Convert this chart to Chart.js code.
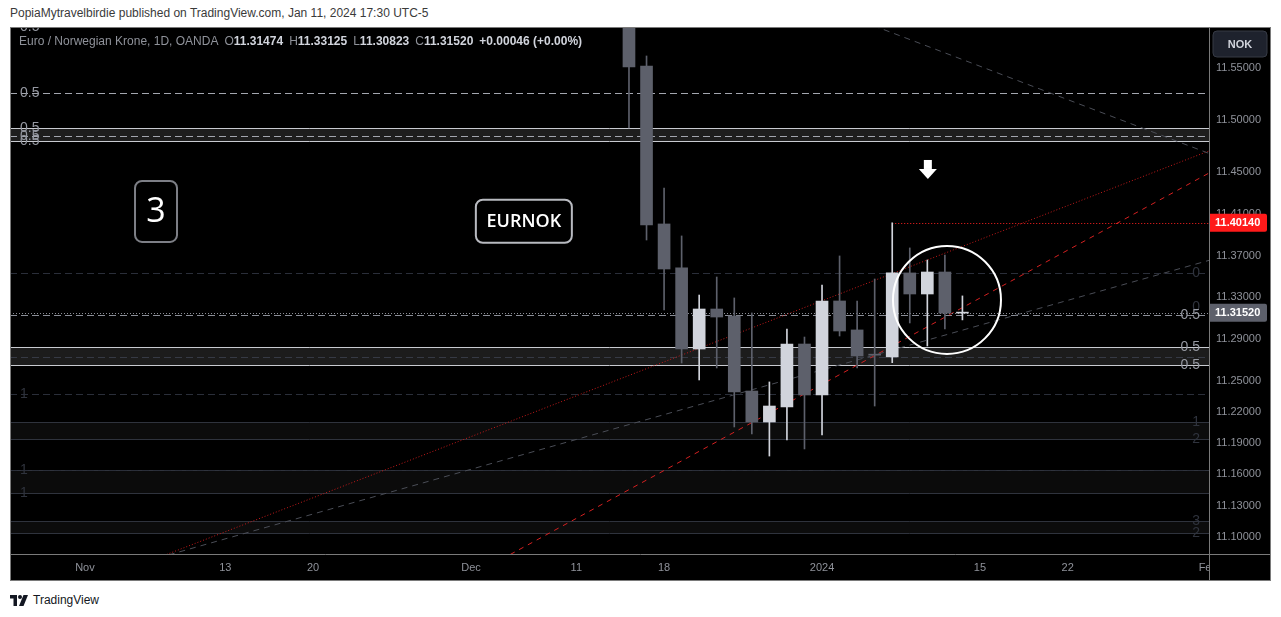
<!DOCTYPE html>
<html>
<head>
<meta charset="utf-8">
<title>EURNOK 1D</title>
<script src="https://cdn.jsdelivr.net/npm/chart.js@4.4.1/dist/chart.umd.min.js"></script>
<style>
  html, body { margin: 0; padding: 0; background: #fff; width: 1281px; height: 617px; overflow: hidden; }
  body { font-family: "Liberation Sans", Arial, sans-serif; position: relative; }
  #hdr { position: absolute; left: 10px; top: 6px; font-size: 12px; color: #3a3a3a; white-space: nowrap; }
  #wrap { position: absolute; left: 10px; top: 27px; width: 1261px; height: 554px; }
  #ftr { position: absolute; left: 10px; top: 592px; height: 16px; display: flex; align-items: center; font-size: 12px; color: #131722; }
  #ftr svg { margin-right: 5px; }
</style>
</head>
<body>
<div id="hdr">PopiaMytravelbirdie published on TradingView.com, Jan 11, 2024 17:30 UTC-5</div>
<div id="wrap"><canvas id="chart" width="1261" height="554"></canvas></div>
<div id="ftr">
  <svg width="18" height="11" viewBox="0 0 36 22"><path d="M0 0h14v22H7V7H0z" fill="#131722"/><circle cx="20" cy="4" r="4" fill="#131722"/><path d="M27 0h9l-9 22h-9z" fill="#131722"/></svg>
  <span>TradingView</span>
</div>
<script>
// --- calendar (forex trading days, weekends + closed days skipped) ---
const firstDay = '2023-10-26';
const lastDay = '2024-02-02';
const closedDays = ['2023-12-25', '2024-01-01'];

// --- candles ---
const candleDates = ['2023-12-14', '2023-12-15', '2023-12-18', '2023-12-19', '2023-12-20', '2023-12-21', '2023-12-22',
  '2023-12-26', '2023-12-27', '2023-12-28', '2023-12-29', '2024-01-02', '2024-01-03', '2024-01-04', '2024-01-05',
  '2024-01-08', '2024-01-09', '2024-01-10', '2024-01-11', '2024-01-12'];
const opens  = [11.6500, 11.5519, 11.4003, 11.3581, 11.2803, 11.3187, 11.3120, 11.2400, 11.2103, 11.2247,
  11.2851, 11.2362, 11.3264, 11.2986, 11.2747, 11.2727, 11.3533, 11.3331, 11.3542, 11.31474];
const highs  = [11.6600, 11.5615, 11.4348, 11.3888, 11.3321, 11.3494, 11.3293, 11.3149, 11.2487, 11.2995,
  11.2918, 11.3417, 11.3696, 11.3264, 11.3475, 11.4014, 11.3773, 11.3657, 11.3705, 11.33125];
const lows   = [11.4924, 11.3849, 11.3178, 11.2669, 11.2506, 11.2621, 11.2055, 11.1988, 11.1776, 11.1930,
  11.1844, 11.1978, 11.2928, 11.2621, 11.2256, 11.2672, 11.3053, 11.2832, 11.2995, 11.30823];
const closes = [11.5510, 11.3993, 11.3571, 11.2803, 11.3187, 11.3110, 11.2391, 11.2103, 11.2256, 11.2851,
  11.2362, 11.3264, 11.2976, 11.2736, 11.2744, 11.3533, 11.3331, 11.3542, 11.3147, 11.31520];

// --- axes ---
const tickDates  = ['2023-11-01', '2023-11-13', '2023-11-20', '2023-12-01', '2023-12-11', '2023-12-18', '2024-01-02', '2024-01-15', '2024-01-22', '2024-02-01'];
const tickLabels = ['Nov', '13', '20', 'Dec', '11', '18', '2024', '15', '22', 'Feb'];
const priceTicks = [11.55, 11.50, 11.45, 11.41, 11.37, 11.33, 11.29, 11.25, 11.22, 11.19, 11.16, 11.13, 11.10];
const viewFrom = -0.27, viewTo = 68.05;
const priceMin = 11.0836, priceMax = 11.5893;

// --- drawings on the chart (prices) ---
const dashLevels = [
  { p: 11.5891, color: '#9598a1', label: '0.5', side: 'left' },
  { p: 11.5260, color: '#a3a6af', label: '0.5', side: 'left' },
  { p: 11.4845, color: '#a3a6af', label: '0.5', side: 'left' },
  { p: 11.3530, color: '#2a2e39', label: '0', side: 'right' },
  { p: 11.3206, color: null, label: '0', side: 'right' },
  { p: 11.3127, color: '#8a8d96', label: '0.5', side: 'right' },
  { p: 11.2729, color: '#363a45', label: null, side: 'right' },
  { p: 11.2371, color: '#2a2e39', label: '1', side: 'left' },
  { p: 11.1642, color: '#2a2e39', label: '1', side: 'left' }
];
const bands = [
  { top: 11.4921, bottom: 11.4799, fill: '#1e1e1e', edge: '#c8cad0', labels: ['0.5', '0.5'], side: 'left', light: true },
  { top: 11.2820, bottom: 11.2647, fill: '#1c1c1c', edge: '#c8cad0', labels: ['0.5', '0.5'], side: 'right', light: true },
  { top: 11.2103, bottom: 11.1937, fill: '#0c0c0c', edge: '#2f333d', labels: ['1', '2'], side: 'right', light: false },
  { top: 11.1642, bottom: 11.1424, fill: '#0b0b0b', edge: '#2f333d', labels: [null, '1'], side: 'left', light: false },
  { top: 11.1153, bottom: 11.1035, fill: '#0c0c0c', edge: '#2f333d', labels: ['3', '2'], side: 'right', light: false }
];
const trendLines = [
  { a: [33.34, 11.2441], b: [51.01, 11.3593], color: '#c41a1a', dash: [1, 2], width: 1 },
  { a: [37.16, 11.1652], b: [49.30, 11.2768], color: '#d42020', dash: [5, 5], width: 1 },
  { a: [33.91, 11.2026], b: [67.53, 11.3629], color: '#4a4d56', dash: [6, 5], width: 1 },
  { a: [49.13, 11.5893], b: [68.05, 11.4680], color: '#4a4d56', dash: [6, 5], width: 1 }
];
const resistanceFrom = 50, resistancePrice = 11.4014;
const lastPrice = 11.31520;
const circleAt = [53.12, 11.3274];
const arrowAt = [52.03, 11.4521];
const noteBoxes = [
  { text: '3', at: [8.05, 11.4123], w: 42, h: 61, font: '34px "Open Sans", sans-serif', border: '#7d7f86' },
  { text: 'EURNOK', at: [29.01, 11.4029], w: 96, h: 43, font: '600 18px "Open Sans", sans-serif', border: '#b8bac0' }
];

function tradingDays() {
  const out = [];
  const d = new Date(firstDay + 'T00:00:00Z');
  const end = new Date(lastDay + 'T00:00:00Z');
  while (d <= end) {
    const s = d.toISOString().slice(0, 10);
    const wd = d.getUTCDay();
    if (wd !== 0 && wd !== 6 && !closedDays.includes(s)) out.push(s);
    d.setUTCDate(d.getUTCDate() + 1);
  }
  return out;
}
const days = tradingDays();
const dayIdx = (s) => days.indexOf(s);
const tickIdx = tickDates.map(dayIdx);

const BULL = '#d1d4dc', BEAR = '#5d606b';
const isBull = candleDates.map((d, k) => closes[k] >= opens[k]);

const wickData = candleDates.map((d, k) => ({ x: dayIdx(d), y: [lows[k], highs[k]] }));
const bodyData = candleDates.map((d, k) => ({ x: dayIdx(d), y: [Math.min(opens[k], closes[k]), Math.max(opens[k], closes[k])] }));

const FONT = '"Liberation Sans", Arial, sans-serif';

// --- drawing plugin ---
const tvPlugin = {
  id: 'tv',
  beforeDraw(chart) {
    const c = chart.ctx;
    c.save();
    c.fillStyle = '#000';
    c.fillRect(0, 0, chart.width, chart.height);
    c.restore();
  },
  beforeDatasetsDraw(chart) {
    const c = chart.ctx, a = chart.chartArea;
    const xs = chart.scales.x, ys = chart.scales.y;
    c.save();
    c.beginPath();
    c.rect(a.left, a.top, a.right - a.left, a.bottom - a.top);
    c.clip();

    bands.forEach(b => {
      const y1 = Math.round(ys.getPixelForValue(b.top)), y2 = Math.round(ys.getPixelForValue(b.bottom));
      c.fillStyle = b.fill;
      c.fillRect(a.left, y1, a.right - a.left, y2 - y1);
      c.strokeStyle = b.edge;
      c.lineWidth = 1;
      c.setLineDash([]);
      [y1, y2].forEach(y => { c.beginPath(); c.moveTo(a.left, y + 0.5); c.lineTo(a.right, y + 0.5); c.stroke(); });
    });

    dashLevels.forEach(l => {
      if (!l.color) return;
      const y = Math.round(ys.getPixelForValue(l.p)) + 0.5;
      c.strokeStyle = l.color;
      c.lineWidth = 1;
      c.setLineDash([7, 4]);
      c.beginPath(); c.moveTo(a.left, y); c.lineTo(a.right, y); c.stroke();
    });

    trendLines.forEach(t => {
      const x1 = xs.getPixelForValue(t.a[0]), y1 = ys.getPixelForValue(t.a[1]);
      const x2 = xs.getPixelForValue(t.b[0]), y2 = ys.getPixelForValue(t.b[1]);
      const k = (y2 - y1) / (x2 - x1);
      c.strokeStyle = t.color;
      c.lineWidth = t.width;
      c.setLineDash(t.dash);
      c.beginPath();
      c.moveTo(a.left, y1 + (a.left - x1) * k);
      c.lineTo(a.right, y1 + (a.right - x1) * k);
      c.stroke();
    });

    // resistance (red dotted) and last price line
    c.setLineDash([1, 2]);
    c.strokeStyle = '#ff2020';
    let y = Math.round(ys.getPixelForValue(resistancePrice)) + 0.5;
    c.beginPath(); c.moveTo(xs.getPixelForValue(resistanceFrom), y); c.lineTo(a.right, y); c.stroke();
    c.strokeStyle = '#8a8d96';
    y = Math.round(ys.getPixelForValue(lastPrice)) + 0.5;
    c.beginPath(); c.moveTo(a.left, y); c.lineTo(a.right, y); c.stroke();
    c.restore();
  },
  afterDatasetsDraw(chart) {
    const c = chart.ctx, a = chart.chartArea;
    const xs = chart.scales.x, ys = chart.scales.y;
    c.save();
    c.beginPath();
    c.rect(a.left, a.top, a.right - a.left, a.bottom - a.top);
    c.clip();

    // level labels
    c.font = '14px ' + FONT;
    c.textBaseline = 'middle';
    const putLabel = (txt, p, side, light) => {
      if (!txt) return;
      c.fillStyle = light ? '#9598a1' : '#2f333d';
      const y = ys.getPixelForValue(p);
      if (side === 'left') { c.textAlign = 'left'; c.fillText(txt, a.left + 10, y); }
      else { c.textAlign = 'right'; c.fillText(txt, a.right - 9, y); }
    };
    dashLevels.forEach(l => putLabel(l.label, l.p, l.side, l.label && l.label.includes('.')));
    bands.forEach(b => { putLabel(b.labels[0], b.top, b.side, b.light); putLabel(b.labels[1], b.bottom, b.side, b.light); });

    // circle
    c.strokeStyle = '#ffffff';
    c.lineWidth = 2;
    c.beginPath();
    c.arc(xs.getPixelForValue(circleAt[0]), ys.getPixelForValue(circleAt[1]), 54, 0, Math.PI * 2);
    c.stroke();

    // arrow
    const ax = xs.getPixelForValue(arrowAt[0]), ay = ys.getPixelForValue(arrowAt[1]);
    c.fillStyle = '#ffffff';
    c.fillRect(ax - 4, ay - 10, 8, 9);
    c.beginPath(); c.moveTo(ax - 9, ay - 1); c.lineTo(ax + 9, ay - 1); c.lineTo(ax, ay + 9); c.closePath(); c.fill();

    // note boxes
    noteBoxes.forEach(n => {
      const cx = xs.getPixelForValue(n.at[0]), cy = ys.getPixelForValue(n.at[1]);
      c.beginPath();
      c.roundRect(cx - n.w / 2, cy - n.h / 2, n.w, n.h, 7);
      c.fillStyle = '#000';
      c.fill();
      c.strokeStyle = n.border;
      c.lineWidth = 2;
      c.stroke();
      c.fillStyle = '#ffffff';
      c.font = n.font;
      c.textAlign = 'center';
      c.textBaseline = 'middle';
      c.fillText(n.text, cx, cy + 1);
    });
    c.restore();
  },
  afterDraw(chart) {
    const c = chart.ctx, a = chart.chartArea, ys = chart.scales.y;
    const W = chart.width, H = chart.height;
    c.save();
    // empty corner cell (cuts the last date label)
    c.fillStyle = '#000';
    c.fillRect(a.right + 1, a.bottom + 1, W - a.right - 1, H - a.bottom - 1);

    // price tags
    const tag = (p, bg, txt) => {
      const y = ys.getPixelForValue(p);
      c.fillStyle = bg;
      c.beginPath(); c.roundRect(a.right + 1, y - 9, 57, 18, [0, 2, 2, 0]); c.fill();
      c.fillStyle = '#ffffff';
      c.font = 'bold 11px ' + FONT;
      c.textAlign = 'left';
      c.textBaseline = 'middle';
      c.fillText(txt, a.right + 6, y + 0.5);
    };
    tag(resistancePrice, '#ff1a1a', resistancePrice.toFixed(5));
    tag(lastPrice, '#5d606b', lastPrice.toFixed(5));

    // currency button
    c.beginPath(); c.roundRect(a.right + 4, 4, 54, 26, 4);
    c.fillStyle = '#1e222d'; c.fill();
    c.strokeStyle = '#363a45'; c.lineWidth = 1; c.stroke();
    c.fillStyle = '#d1d4dc';
    c.font = 'bold 11px ' + FONT;
    c.textAlign = 'center'; c.textBaseline = 'middle';
    c.fillText('NOK', a.right + 31, 17.5);

    // frame
    c.strokeStyle = '#7a7a7a';
    c.lineWidth = 1;
    c.setLineDash([]);
    c.strokeRect(0.5, 0.5, W - 1, H - 1);
    c.beginPath(); c.moveTo(a.right + 0.5, 0); c.lineTo(a.right + 0.5, H); c.stroke();
    c.beginPath(); c.moveTo(0, a.bottom + 0.5); c.lineTo(W, a.bottom + 0.5); c.stroke();

    // legend
    const parts = [
      ['Euro / Norwegian Krone, 1D, OANDA', false, 6], ['O', false, 0], ['11.31474', true, 6],
      ['H', false, 0], ['11.33125', true, 6], ['L', false, 0], ['11.30823', true, 6],
      ['C', false, 0], ['11.31520', true, 6], ['+0.00046 (+0.00%)', true, 0]
    ];
    let x = 9;
    c.textAlign = 'left';
    c.textBaseline = 'middle';
    parts.forEach(([t, val, gap]) => {
      c.font = (val ? 'bold ' : '') + '12px ' + FONT;
      c.fillStyle = val ? '#d1d4dc' : '#8f929a';
      c.fillText(t, x, 14.5);
      x += c.measureText(t).width + gap;
    });
    c.restore();
  }
};

const noPad = (s) => { s.paddingTop = 0; s.paddingBottom = 0; s.paddingLeft = 0; s.paddingRight = 0; };

new Chart(document.getElementById('chart'), {
  type: 'bar',
  data: {
    datasets: [
      {
        label: 'body', data: bodyData, order: 0, grouped: false,
        barThickness: 12, minBarLength: 1, borderWidth: 0,
        backgroundColor: isBull.map(b => b ? BULL : BEAR)
      },
      {
        label: 'wick', data: wickData, order: 1, grouped: false,
        barThickness: 1, borderWidth: 0,
        backgroundColor: isBull.map(b => b ? BULL : BEAR)
      }
    ]
  },
  plugins: [tvPlugin],
  options: {
    responsive: false,
    animation: false,
    layout: { padding: 0 },
    plugins: { legend: { display: false }, tooltip: { enabled: false } },
    scales: {
      x: {
        type: 'linear', min: viewFrom, max: viewTo, offset: false,
        grid: { display: false, drawTicks: false }, border: { display: false },
        afterBuildTicks: (s) => { s.ticks = tickIdx.map(v => ({ value: v })); },
        afterFit: (s) => { s.height = 27; noPad(s); },
        ticks: {
          autoSkip: false, maxRotation: 0, padding: 7, color: '#8f929a',
          font: { family: FONT, size: 11 },
          callback: (v, i) => tickLabels[i]
        }
      },
      y: {
        position: 'right', min: priceMin, max: priceMax,
        grid: { display: false, drawTicks: false }, border: { display: false },
        afterBuildTicks: (s) => { s.ticks = priceTicks.map(v => ({ value: v })); },
        afterFit: (s) => { s.width = 62; noPad(s); },
        ticks: {
          autoSkip: false, padding: 7, color: '#8f929a',
          font: { family: FONT, size: 11 },
          callback: (v) => Number(v).toFixed(5)
        }
      }
    }
  }
});
</script>
</body>
</html>
